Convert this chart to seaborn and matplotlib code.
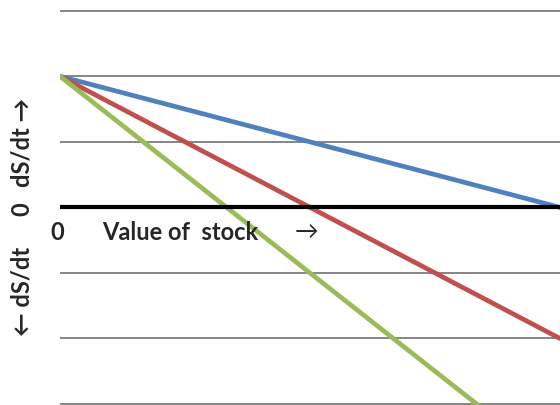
import matplotlib
matplotlib.use("Agg")
import matplotlib.pyplot as plt
import seaborn as sns
import pandas as pd

# data
x_vals = [0, 10]
blue_vals = [2, 0]
red_vals = [2, -2]
green_vals = [2, -4]
series_names = ["blue", "red", "green"]
grid_levels = [-3, -2, -1, 1, 2, 3]

sns.set_theme(style="white")
plt.rcParams['font.family'] = ['Lato', 'DejaVu Sans']

df = pd.DataFrame({
    "x": x_vals * 3,
    "y": blue_vals + red_vals + green_vals,
    "s": [series_names[0]] * 2 + [series_names[1]] * 2 + [series_names[2]] * 2,
})

W, H = 560, 406
fig = plt.figure(figsize=(W / 100, H / 100), dpi=100)
ax = fig.add_axes([60 / W, 0, 500 / W, 1])

for g in grid_levels:
    ax.axhline(g, color="#868686", lw=1.4, zorder=1)

palette = {"blue": "#4F81BD", "red": "#C0504D", "green": "#9BBB59"}
sns.lineplot(data=df, x="x", y="y", hue="s", palette=palette, lw=3.4,
             legend=False, ax=ax, zorder=3)
ax.axhline(0, color="black", lw=3.0, zorder=4)

ax.set_xlim(0, 10)
ax.set_ylim(-3.015, 3.18)
ax.set_axis_off()

def px(xp, yp):
    return xp / W, 1 - yp / H

fs = 17
fig.text(*px(57, 233), "0", ha="center", va="center", fontsize=fs, fontweight="bold")
fig.text(*px(102, 233), "Value of  stock", ha="left", va="center", fontsize=fs, fontweight="bold")
fig.text(*px(306, 233), "→", ha="center", va="center", fontsize=fs)

fig.text(*px(22, 209), "0", ha="center", va="center", fontsize=fs, fontweight="bold", rotation=90)
fig.text(*px(22, 142), "dS/dt →", ha="center", va="center", fontsize=fs, fontweight="bold", rotation=90)
fig.text(*px(22, 291), "← dS/dt", ha="center", va="center", fontsize=fs, fontweight="bold", rotation=90)

fig.savefig("out.png", dpi=100)
